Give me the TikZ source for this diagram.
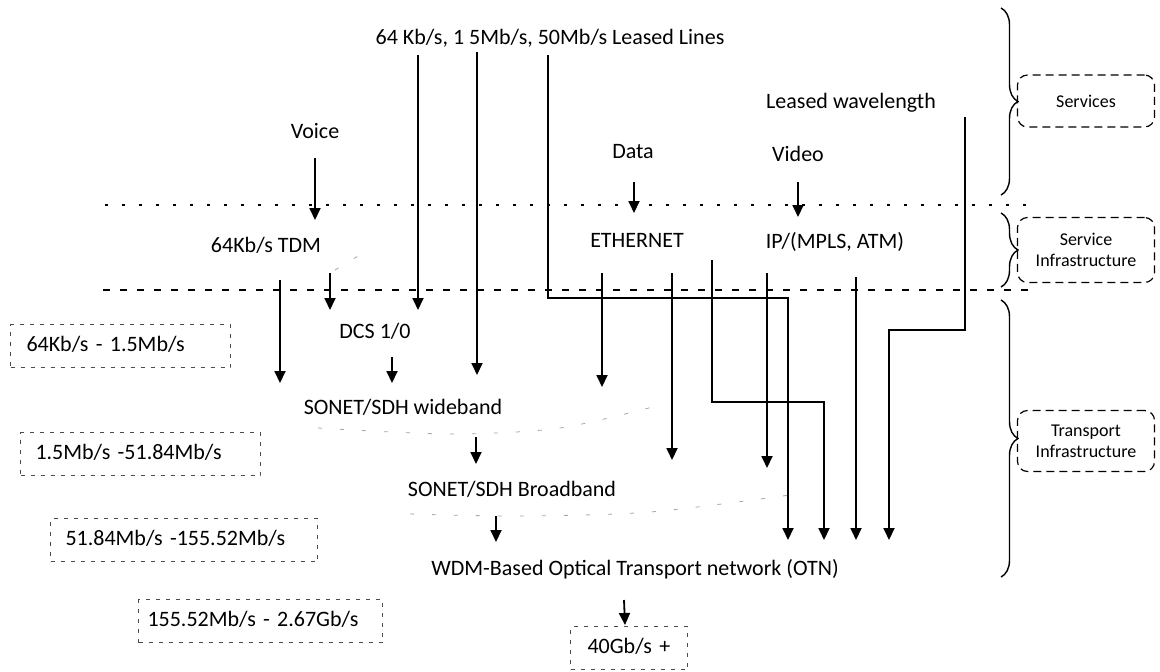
\documentclass[tikz,border=0pt]{standalone}
\usepackage{fontspec}
\setmainfont{Carlito}
\usetikzlibrary{arrows.meta, decorations.pathreplacing}
\tikzset{
    layer/.style={inner sep=0pt, text height=7.5pt, text depth=2pt},
    ratebox/.style={draw=black!70, line width=0.5pt, dash pattern=on 2pt off 3pt, inner xsep=7.5pt, inner ysep=0pt, minimum height=21.5pt, text height=7.5pt, text depth=2pt, anchor=west},
    tag/.style={draw, line width=0.6pt, dash pattern=on 4pt off 2.5pt, rounded corners=5pt, minimum width=68.5pt, align=center, font=\fontsize{9}{10.5}\selectfont},
    arrow/.style={line width=0.9pt, -{Triangle[width=5.5pt, length=6pt]}},
    sepdots/.style={line width=0.6pt, dash pattern=on 1.5pt off 7pt},
    sepdash/.style={line width=0.6pt, dash pattern=on 3.5pt off 5pt},
    bracket/.style={decorate, decoration={brace, amplitude=8.5pt, aspect=#1}, line width=0.7pt},
    bracket/.default=0.5,
    faint/.style={gray!70, line width=0.4pt, dash pattern=on 2pt off 9pt}
}

\begin{document}
\begin{tikzpicture}[x=0.5pt, y=-0.5pt, font=\fontsize{11}{13}\selectfont]
    \path[use as bounding box, fill=white] (0,0) rectangle (1160,671);

    % Layers
    \draw[sepdots] (105,205) -- (1033,205);
    \draw[sepdash] (103,290) -- (1033,290);

    % Nodes
    \node[layer] (leased) at (550,39) {64 Kb/s, 1 5Mb/s, 50Mb/s Leased Lines};
    \node[layer] (voice) at (315,133) {Voice};
    \node[layer] (data) at (633,153) {Data};
    \node[layer] (video) at (798,156) {Video};
    \node[layer] (wavelen) at (851,103) {Leased wavelength};
    \node[layer] (tdm) at (266,247) {64Kb/s TDM};
    \node[layer] (ethernet) at (637,242) {ETHERNET};
    \node[layer] (ip) at (835,243) {IP/(MPLS, ATM)};
    \node[layer] (dcs) at (375,333) {DCS 1/0};
    \node[layer] (wideband) at (403,409) {SONET/SDH wideband};
    \node[layer] (broadband) at (512,491) {SONET/SDH Broadband};
    \node[layer] (otn) at (635,570) {WDM-Based Optical Transport network (OTN)};

    % Rates
    \node[ratebox, inner xsep=8pt, text width=94pt] (rate1) at (10,346) {64Kb/s - 1.5Mb/s};
    \node[ratebox, text width=105pt] (rate2) at (20,454) {1.5Mb/s -51.84Mb/s};
    \node[ratebox, text width=118.5pt] (rate3) at (50,540) {51.84Mb/s -155.52Mb/s};
    \node[ratebox, inner xsep=4.5pt, text width=113pt] (rate4) at (138,621) {155.52Mb/s - 2.67Gb/s};
    \node[ratebox, inner xsep=8.5pt, text width=41.5pt] (rate5) at (570,648) {40Gb/s +};

    % Tags
    \node[tag, minimum height=26pt] (services) at (1086,101) {Services};
    \node[tag, minimum height=32.5pt] (servinfra) at (1086,250) {Service\\Infrastructure};
    \node[tag, minimum height=30.5pt] (transinfra) at (1086,441) {Transport\\Infrastructure};
    \draw[bracket] (1001,8) -- (1001,195);
    \draw[bracket] (1001,213) -- (1001,287);
    \draw[bracket] (1001,300) -- (1001,577);

    % faint rings
    \draw[faint] plot[smooth] coordinates {(318,428) (450,434) (560,428) (660,405)};
    \draw[faint] plot[smooth] coordinates {(410,514) (520,516) (650,512) (790,495)};
    \draw[faint] (335,270) -- (368,250);

    % Arrows
    \draw[arrow] ([shift={(0,25)}]voice.center) -- ([shift={(49,-27)}]tdm.center);
    \draw[arrow] ([shift={(1,29)}]data.center) -- ([shift={(-3,-29)}]ethernet.center);
    \draw[arrow] ([shift={(0,26)}]video.center) -- ([shift={(-37,-26)}]ip.center);
    \draw[arrow] ([shift={(14,33)}]tdm.center) -- ([shift={(-123,-26)}]wideband.center);
    \draw[arrow] ([shift={(64,26)}]tdm.center) -- ([shift={(-45,-23)}]dcs.center);
    \draw[arrow] ([shift={(-132,16)}]leased.center) -- ([shift={(43,-23)}]dcs.center);
    \draw[arrow] ([shift={(-73,13)}]leased.center) -- ([shift={(74,-34)}]wideband.center);
    \draw[arrow] ([shift={(17,24)}]dcs.center) -- ([shift={(-11,-26)}]wideband.center);
    \draw[arrow] ([shift={(73,28)}]wideband.center) -- ([shift={(-36,-27)}]broadband.center);
    \draw[arrow] ([shift={(-16,25)}]broadband.center) -- ([shift={(-139,-28)}]otn.center);
    \draw[arrow] ([shift={(-11,30)}]otn.center) -- ([shift={(-4,-23)}]rate5.center);
    \draw[arrow] ([shift={(-2,16)}]leased.center) -- ++(0,243) -| ([shift={(153,-30)}]otn.center);
    \draw[arrow] ([shift={(-35,31)}]ethernet.center) -- ([shift={(199,-22)}]wideband.center);
    \draw[arrow] ([shift={(35,31)}]ethernet.center) -- ([shift={(160,-31)}]broadband.center);
    \draw[arrow] ([shift={(75,18)}]ethernet.center) -- ++(0,142) -| ([shift={(189,-30)}]otn.center);
    \draw[arrow] ([shift={(-68,30)}]ip.center) -- ([shift={(255,-23)}]broadband.center);
    \draw[arrow] ([shift={(21,34)}]ip.center) -- ([shift={(221,-30)}]otn.center);
    \draw[arrow] ([shift={(114,14)}]wavelen.center) -- ++(0,213) -| ([shift={(254,-30)}]otn.center);
\end{tikzpicture}
\end{document}
